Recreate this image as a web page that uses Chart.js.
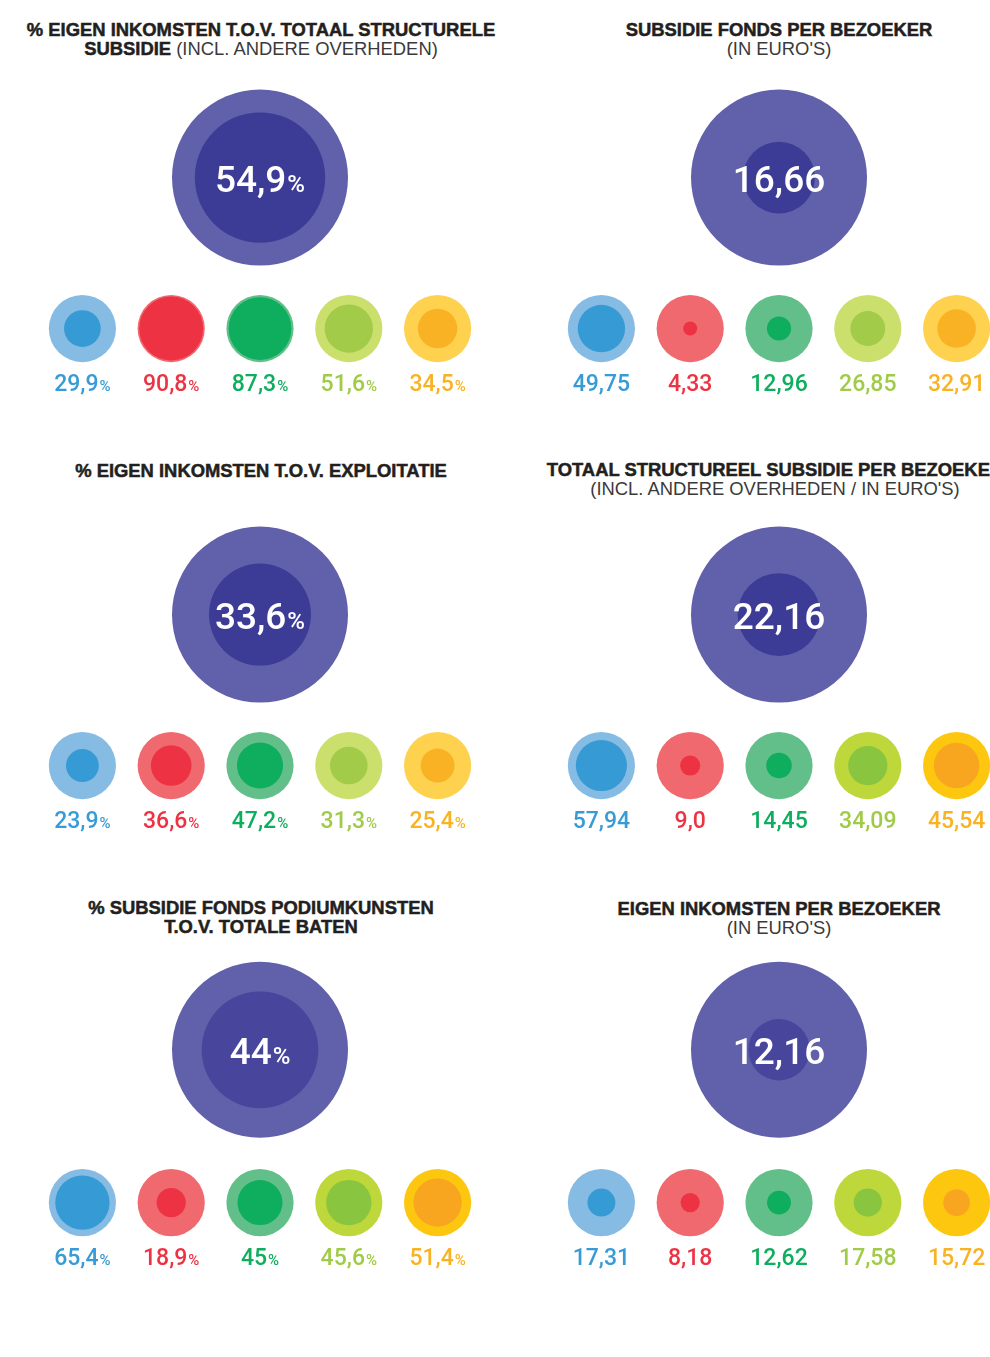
<!DOCTYPE html>
<html>
<head>
<meta charset="utf-8">
<script src="https://cdn.jsdelivr.net/npm/chart.js@4/dist/chart.umd.min.js"></script>
<style>
  html, body { margin: 0; background: #fff; }
  body { width: 990px; height: 1357px; position: relative; overflow: hidden; font-family: "Liberation Sans", Arial, sans-serif; }
  .title { position: absolute; width: 700px; text-align: center; white-space: nowrap; font-size: 18.4px; line-height: 19px; font-weight: 700; color: #231f20; -webkit-text-stroke: 0.5px #231f20; }
  .title span { font-weight: 400; color: #3a3a3a; -webkit-text-stroke: 0; }
  canvas { position: absolute; }
</style>
</head>
<body>

<div class="title" style="left:-89px;top:20px">% EIGEN INKOMSTEN T.O.V. TOTAAL STRUCTURELE<br>SUBSIDIE <span>(INCL. ANDERE OVERHEDEN)</span></div>
<div class="title" style="left:429px;top:20px">SUBSIDIE FONDS PER BEZOEKER<br><span>(IN EURO'S)</span></div>
<div class="title" style="left:-89px;top:461px">% EIGEN INKOMSTEN T.O.V. EXPLOITATIE</div>
<div class="title" style="left:425px;top:460px">TOTAAL STRUCTUREEL SUBSIDIE PER BEZOEKER<br><span>(INCL. ANDERE OVERHEDEN / IN EURO'S)</span></div>
<div class="title" style="left:-89px;top:898px">% SUBSIDIE FONDS PODIUMKUNSTEN<br>T.O.V. TOTALE BATEN</div>
<div class="title" style="left:429px;top:899px">EIGEN INKOMSTEN PER BEZOEKER<br><span>(IN EURO'S)</span></div>

<canvas id="c1" width="444" height="320" style="left:38px;top:84px"></canvas>
<canvas id="c2" width="444" height="320" style="left:557px;top:84px"></canvas>
<canvas id="c3" width="444" height="320" style="left:38px;top:521px"></canvas>
<canvas id="c4" width="444" height="320" style="left:557px;top:521px"></canvas>
<canvas id="c5" width="444" height="324" style="left:38px;top:955px"></canvas>
<canvas id="c6" width="444" height="324" style="left:557px;top:955px"></canvas>

<script>
// --- data ---
// % eigen inkomsten t.o.v. totaal structurele subsidie
const inkomstenSubsidieTotaal = 54.9;
const inkomstenSubsidie = [29.9, 90.8, 87.3, 51.6, 34.5];
// subsidie fonds per bezoeker (euro)
const fondsBezoekerTotaal = 16.66;
const fondsBezoeker = [49.75, 4.33, 12.96, 26.85, 32.91];
// % eigen inkomsten t.o.v. exploitatie
const inkomstenExploitatieTotaal = 33.6;
const inkomstenExploitatie = [23.9, 36.6, 47.2, 31.3, 25.4];
// totaal structureel subsidie per bezoeker (euro)
const structureelBezoekerTotaal = 22.16;
const structureelBezoeker = [57.94, 9.0, 14.45, 34.09, 45.54];
// % subsidie fonds podiumkunsten t.o.v. totale baten
const fondsBatenTotaal = 44;
const fondsBaten = [65.4, 18.9, 45, 45.6, 51.4];
// eigen inkomsten per bezoeker (euro)
const eigenBezoekerTotaal = 12.16;
const eigenBezoeker = [17.31, 8.18, 12.62, 17.58, 15.72];

const scaleMax = 100;

// --- styling ---
const BIG_R = 88, SMALL_R = 33.6;
const bigOuter = '#6160aa';
const textColours = ['#379bd6', '#ed3343', '#0eae5e', '#a0cb48', '#f9b223'];
const paletteA = {
  outer: ['#86bbe4', '#f0696f', '#62bf8a', '#cbdf6c', '#fed14f'],
  inner: ['#369bd5', '#ed3343', '#0eae5e', '#a1cb48', '#f9b223']
};
const paletteB = {
  outer: ['#86bbe4', '#f0696f', '#62bf8a', '#bed73a', '#fdc60f'],
  inner: ['#369bd5', '#ed3343', '#0eae5e', '#8ac540', '#f8a51f']
};

function fmt(v, minDec, maxDec) {
  let s = v.toFixed(maxDec);
  let dec = maxDec;
  while (dec > minDec && s.endsWith('0')) { s = s.slice(0, -1); dec--; }
  if (s.endsWith('.')) s = s.slice(0, -1);
  return s.replace('.', ',');
}

const valueLabels = {
  id: 'valueLabels',
  afterDatasetsDraw(chart) {
    const ctx = chart.ctx;
    const ds = chart.data.datasets[0];
    const meta = chart.getDatasetMeta(0);
    const o = chart.options.plugins.valueLabels;
    meta.data.forEach((pt, i) => {
      const raw = ds.data[i];
      const big = raw.y === 1;
      const num = fmt(raw.v, o.minDec, o.maxDec);
      const numFont = big ? '500 37px Roboto' : '500 23px Roboto';
      const unitFont = big ? '500 24px Roboto' : '500 15px Roboto';
      ctx.save();
      ctx.textBaseline = 'alphabetic';
      ctx.textAlign = 'left';
      ctx.font = numFont;
      const wn = ctx.measureText(num).width;
      ctx.font = unitFont;
      const wu = o.unit ? ctx.measureText(o.unit).width + 1 : 0;
      const x0 = pt.x - (wn + wu) / 2;
      const yb = big ? pt.y + 14 : pt.y + 62;
      ctx.fillStyle = big ? '#ffffff' : textColours[raw.g];
      ctx.font = numFont;
      ctx.fillText(num, x0, yb);
      if (o.unit) {
        ctx.font = unitFont;
        ctx.fillText(o.unit, x0 + wn + 1, yb);
      }
      ctx.restore();
    });
  }
};

function makePanel(id, total, values, unit, palette, bigInner) {
  const inner = [], outer = [], innerCol = [], outerCol = [];
  values.forEach((v, i) => {
    inner.push({ x: i, y: 0, r: SMALL_R * Math.sqrt(v / scaleMax), v: v, g: i });
    outer.push({ x: i, y: 0, r: SMALL_R });
    innerCol.push(palette.inner[i]);
    outerCol.push(palette.outer[i]);
  });
  inner.push({ x: 2, y: 1, r: BIG_R * Math.sqrt(total / scaleMax), v: total, g: -1 });
  outer.push({ x: 2, y: 1, r: BIG_R });
  innerCol.push(bigInner);
  outerCol.push(bigOuter);

  new Chart(document.getElementById(id), {
    type: 'bubble',
    data: {
      datasets: [
        { data: inner, backgroundColor: innerCol, borderWidth: 0, hoverRadius: 0, clip: false },
        { data: outer, backgroundColor: outerCol, borderWidth: 0, hoverRadius: 0, clip: false }
      ]
    },
    options: {
      responsive: false,
      animation: false,
      events: [],
      devicePixelRatio: 1,
      layout: { padding: 0, autoPadding: false },
      plugins: {
        legend: { display: false },
        tooltip: { enabled: false },
        valueLabels: unit === '%' ? { unit: '%', minDec: 0, maxDec: 1 } : { unit: '', minDec: 1, maxDec: 2 }
      },
      scales: {
        x: { type: 'linear', min: -0.5, max: 4.5, display: false },
        y: { type: 'linear', min: -0.5, max: 1.62, display: false }
      }
    },
    plugins: [valueLabels]
  });
}

function drawAll() {
  makePanel('c1', inkomstenSubsidieTotaal, inkomstenSubsidie, '%', paletteA, '#3c3c97');
  makePanel('c2', fondsBezoekerTotaal, fondsBezoeker, '', paletteA, '#3c3c97');
  makePanel('c3', inkomstenExploitatieTotaal, inkomstenExploitatie, '%', paletteA, '#3c3c97');
  makePanel('c4', structureelBezoekerTotaal, structureelBezoeker, '', paletteB, '#3c3c97');
  makePanel('c5', fondsBatenTotaal, fondsBaten, '%', paletteB, '#47469c');
  makePanel('c6', eigenBezoekerTotaal, eigenBezoeker, '', paletteB, '#47469c');
}

Promise.all([
  document.fonts.load('500 37px Roboto'),
  document.fonts.load('500 15px Roboto')
]).then(drawAll, drawAll);
</script>
</body>
</html>
